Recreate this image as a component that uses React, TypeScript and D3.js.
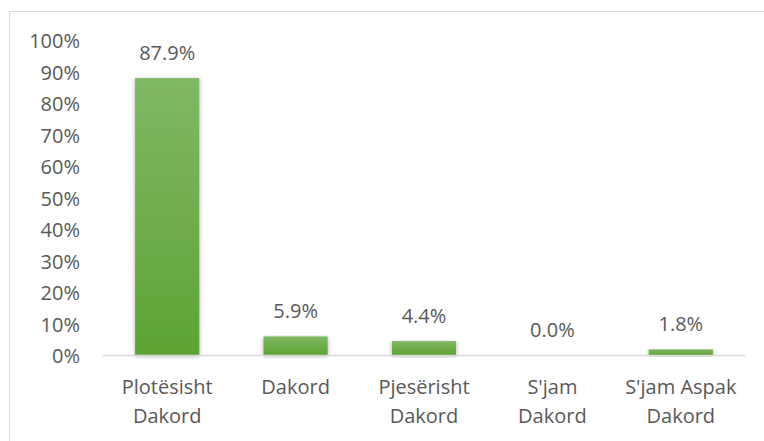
import React from "react";
import * as d3 from "d3";

const categories = ["Plotësisht Dakord", "Dakord", "Pjesërisht Dakord", "S'jam Dakord", "S'jam Aspak Dakord"];
const categoryLines = [["Plotësisht", "Dakord"], ["Dakord"], ["Pjesërisht", "Dakord"], ["S'jam", "Dakord"], ["S'jam Aspak", "Dakord"]];
const values = [87.9, 5.9, 4.4, 0.0, 1.8];
const yTicks = [0, 10, 20, 30, 40, 50, 60, 70, 80, 90, 100];

const W = 764, H = 441;
const FONT = "'Open Sans', 'Noto Sans', sans-serif";
const FS = 20;

export default function App() {
  const x = d3.scaleBand<string>().domain(categories).range([103, 745]).paddingInner(0.5).paddingOuter(0.25);
  const y = d3.scaleLinear().domain([0, 100]).range([355, 40]);
  const txt = "#595959";
  return (
    <div style={{ position: "absolute", left: 0, top: 0 }}>
      <svg width={W} height={H} style={{ display: "block", background: "#fff" }}>
        <defs>
          <linearGradient id="g" x1="0" y1="0" x2="0" y2="1">
            <stop offset="0" stopColor="#80b864" />
            <stop offset="1" stopColor="#5ea334" />
          </linearGradient>
          <filter id="sh" x="-30%" y="-10%" width="160%" height="130%">
            <feGaussianBlur in="SourceAlpha" stdDeviation="2.2" />
            <feOffset dx="0" dy="1" result="b" />
            <feComponentTransfer><feFuncA type="linear" slope="0.35" /></feComponentTransfer>
            <feMerge><feMergeNode /><feMergeNode in="SourceGraphic" /></feMerge>
          </filter>
        </defs>
        <rect x={9.5} y={11.5} width={W + 10} height={H + 10} fill="#fff" stroke="#d9d9d9" strokeWidth={1} />
        {yTicks.map((t) => (
          <text key={t} x={80} y={y(t) + 1} dy="0.35em" textAnchor="end" fontFamily={FONT} fontSize={FS} fill={txt}>
            {t}%
          </text>
        ))}
        {categories.map((c, i) => {
          const v = values[i];
          const bx = x(c)!;
          const bw = x.bandwidth();
          const top = y(v);
          return (
            <g key={c}>
              {v > 0 && (
                <rect x={bx} y={top} width={bw} height={y(0) - top} fill="url(#g)" filter="url(#sh)" />
              )}
              <text x={bx + bw / 2} y={top - 18} textAnchor="middle" fontFamily={FONT} fontSize={FS} fill={txt}>
                {v.toFixed(1)}%
              </text>
              {categoryLines[i].map((ln, j) => (
                <text key={j} x={bx + bw / 2} y={394 + j * 29} textAnchor="middle" fontFamily={FONT} fontSize={FS} fill={txt}>
                  {ln}
                </text>
              ))}
            </g>
          );
        })}
        <line x1={103} x2={745} y1={y(0) + 0.5} y2={y(0) + 0.5} stroke="#d9d9d9" strokeWidth={1.5} />
      </svg>
    </div>
  );
}
